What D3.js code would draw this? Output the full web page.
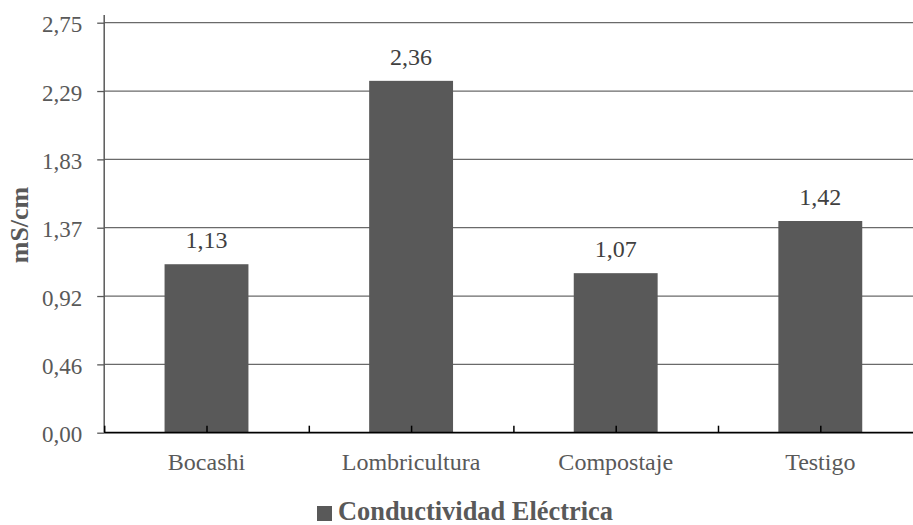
<!DOCTYPE html>
<html>
<head>
<meta charset="utf-8">
<script src="https://cdn.jsdelivr.net/npm/d3@7"></script>
<style>
  body { margin: 0; background: #fff; }
  text { font-family: "Liberation Serif", "Times New Roman", serif; }
</style>
</head>
<body>
<svg id="chart" width="913" height="525"></svg>
<script>
// data
const categories = ["Bocashi", "Lombricultura", "Compostaje", "Testigo"];
const conductividad = [1.13, 2.36, 1.07, 1.42];
const yTicks = [0, 0.4583, 0.9167, 1.375, 1.8333, 2.2917, 2.75];
const yTickLabels = ["0,00", "0,46", "0,92", "1,37", "1,83", "2,29", "2,75"];
const yMax = 2.75;
const seriesName = "Conductividad Eléctrica";
const yTitle = "mS/cm";

const svg = d3.select("#chart");
const plotLeft = 104.2, plotRight = 922.6, plotTop = 22.7, plotBottom = 432.7;
const grey = "#595959";
const fmt = v => d3.format(".2f")(v).replace(".", ",");

const x = d3.scaleBand()
    .domain(categories)
    .range([plotLeft, plotRight])
    .paddingInner(0.59)
    .paddingOuter(0.295);

// linear helper for tick marks at centres and boundaries
const xTickScale = d3.scaleLinear().domain([0, categories.length]).range([plotLeft, plotRight]);

const y = d3.scaleLinear().domain([0, yMax]).range([plotBottom, plotTop]);

// GRIDLINES
svg.append("g")
    .selectAll("line")
    .data(yTicks.slice(1))
    .join("line")
    .attr("x1", plotLeft)
    .attr("x2", 913)
    .attr("y1", d => y(d))
    .attr("y2", d => y(d))
    .style("stroke", "#6a6a6a")
    .style("stroke-width", 1.3);

// Y AXIS
const yAxis = svg.append("g")
    .attr("transform", `translate(${plotLeft},0)`)
    .call(d3.axisLeft(y)
        .tickValues(yTicks)
        .tickFormat((d, i) => yTickLabels[i])
        .tickSize(7)
        .tickPadding(15));
yAxis.select(".domain").remove();
yAxis.selectAll(".tick line").style("stroke", grey).style("stroke-width", 1.3);
yAxis.selectAll(".tick text")
    .style("font-size", "23px")
    .style("fill", grey)
    .attr("dy", "0.4em");
svg.append("line")
    .attr("x1", plotLeft).attr("x2", plotLeft)
    .attr("y1", 15).attr("y2", plotBottom)
    .style("stroke", grey)
    .style("stroke-width", 1.5);

// BARS
svg.append("g")
    .selectAll("rect")
    .data(conductividad)
    .join("rect")
    .attr("x", (d, i) => x(categories[i]))
    .attr("y", d => y(d))
    .attr("width", x.bandwidth())
    .attr("height", d => plotBottom - y(d))
    .style("fill", grey);

// value labels
svg.append("g")
    .selectAll("text")
    .data(conductividad)
    .join("text")
    .attr("x", (d, i) => x(categories[i]) + x.bandwidth() / 2)
    .attr("y", d => y(d) - 16)
    .attr("text-anchor", "middle")
    .style("font-size", "24px")
    .style("fill", "#404040")
    .text(d => fmt(d));

// X AXIS - ticks at centres and boundaries
const xTickAxis = svg.append("g")
    .attr("transform", `translate(0,${plotBottom})`)
    .call(d3.axisBottom(xTickScale)
        .tickValues(d3.range(0, categories.length + 0.01, 0.5))
        .tickFormat("")
        .tickSize(-7)
        .tickSizeOuter(0));
xTickAxis.select(".domain").remove();
xTickAxis.selectAll(".tick line").style("stroke", "#000").style("stroke-width", 1.5);
svg.append("line")
    .attr("x1", plotLeft).attr("x2", 913)
    .attr("y1", plotBottom).attr("y2", plotBottom)
    .style("stroke", "#000")
    .style("stroke-width", 1.8);

const xAxis = svg.append("g")
    .attr("transform", `translate(0,${plotBottom})`)
    .call(d3.axisBottom(x).tickSize(0).tickPadding(0));
xAxis.select(".domain").remove();
xAxis.selectAll(".tick text")
    .attr("y", 37)
    .attr("dy", 0)
    .style("font-size", "24px")
    .style("fill", grey);

// Y TITLE
svg.append("text")
    .attr("transform", "translate(28,225) rotate(-90)")
    .attr("text-anchor", "middle")
    .style("font-size", "26px")
    .style("font-weight", "bold")
    .style("fill", grey)
    .text(yTitle);

// LEGEND
const legend = svg.append("g").attr("transform", "translate(317,506)");
legend.append("rect")
    .attr("width", 15)
    .attr("height", 15)
    .style("fill", grey);
legend.append("text")
    .attr("x", 21)
    .attr("y", 14)
    .style("font-size", "26.4px")
    .style("font-weight", "bold")
    .style("fill", grey)
    .text(seriesName);
</script>
</body>
</html>
